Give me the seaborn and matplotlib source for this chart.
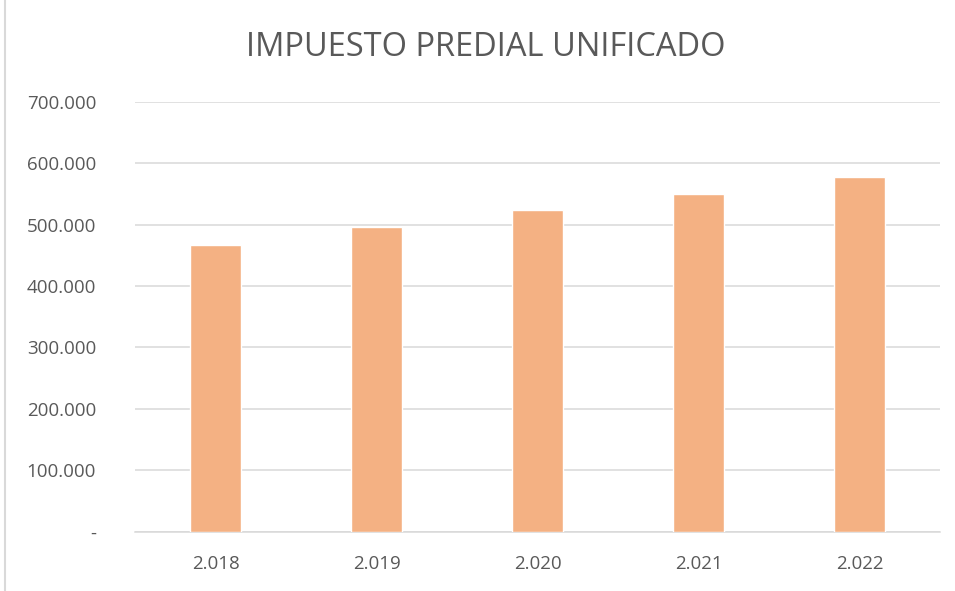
import seaborn as sns
import pandas as pd
import matplotlib.pyplot as plt
from matplotlib.ticker import FuncFormatter, MultipleLocator
from matplotlib.patches import Rectangle

years = ["2.018", "2.019", "2.020", "2.021", "2.022"]
values = [467500, 496500, 523500, 550500, 577500]

title = "IMPUESTO PREDIAL UNIFICADO"
bar_color = "#F4B183"
text_color = "#595959"
grid_color = "#D9D9D9"


def miles(v, pos):
    if v == 0:
        return "-"
    return f"{v:,.0f}".replace(",", ".")


def main():
    sns.set_theme(style="white", rc={"figure.dpi": 100})
    plt.rcParams["font.family"] = ["Open Sans", "DejaVu Sans"]

    data = pd.DataFrame({"year": years, "value": values})

    fig = plt.figure(figsize=(9.55, 5.91))
    ax = fig.add_axes((135 / 955, (591 - 531.5) / 591, 805 / 955, (531.5 - 102) / 591))

    sns.barplot(data=data, x="year", y="value", color=bar_color, width=0.32,
                saturation=1, ax=ax, zorder=3)

    ax.set_ylim(0, 700000)
    ax.set_xlim(-0.5, 4.5)
    ax.yaxis.set_major_locator(MultipleLocator(100000))
    ax.yaxis.set_major_formatter(FuncFormatter(miles))
    ax.grid(axis="y", color=grid_color, linewidth=1.1, zorder=0)
    ax.set_axisbelow(True)

    for side in ["top", "right", "left"]:
        ax.spines[side].set_visible(False)
    ax.spines["bottom"].set_color(grid_color)
    ax.spines["bottom"].set_linewidth(1.1)

    ax.tick_params(axis="both", length=0, labelsize=13.5, labelcolor=text_color)
    ax.tick_params(axis="y", pad=28)
    ax.tick_params(axis="x", pad=17)
    ax.set_xlabel("")
    ax.set_ylabel("")

    fig.text(486 / 955, 1 - 47 / 591, title, ha="center", va="center",
             fontsize=23.5, color=text_color)

    # outer chart border
    fig.patches.append(Rectangle((5 / 955, -0.01), 1.2, 1.2, transform=fig.transFigure,
                                 fill=False, edgecolor=grid_color, linewidth=1.5))

    plt.savefig("out.png", dpi=100)


if __name__ == "__main__":
    main()
